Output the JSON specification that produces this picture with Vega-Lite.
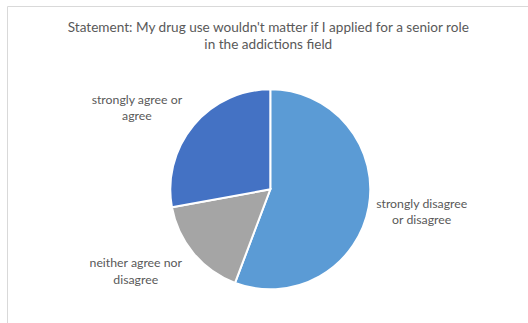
{
  "$schema": "https://vega.github.io/schema/vega-lite/v6.json",
  "autosize": "none",
  "padding": {"left": 7, "top": 6, "right": 0, "bottom": 0},
  "width": 526.6,
  "height": 366.6,
  "background": "white",
  "view": {"stroke": "#D9D9D9", "strokeWidth": 1, "fill": "white"},
  "config": {"view": {"stroke": "#D9D9D9", "strokeWidth": 1}},
  "title": {
    "text": ["Statement: My drug use wouldn't matter if I applied for a senior role", "in the addictions field"],
    "anchor": "middle",
    "frame": "group",
    "font": "Lato",
    "fontSize": 13.6,
    "fontWeight": "normal",
    "color": "#595959",
    "lineHeight": 17,
    "baseline": "top",
    "dy": 50,
    "dx": -2
  },
  "data": {
    "values": [
      {"category": "strongly disagree or disagree", "label": "strongly disagree|or disagree", "count": 34},
      {"category": "neither agree nor disagree", "label": "neither agree nor|disagree", "count": 10},
      {"category": "strongly agree or agree", "label": "strongly agree or|agree", "count": 17}
    ]
  },
  "transform": [{"window": [{"op": "row_number", "as": "rank"}]}],
  "encoding": {
    "theta": {"field": "count", "type": "quantitative", "stack": true},
    "order": {"field": "rank", "type": "quantitative", "sort": "ascending"},
    "color": {
      "field": "category",
      "type": "nominal",
      "scale": {
        "domain": ["strongly disagree or disagree", "neither agree nor disagree", "strongly agree or agree"],
        "range": ["#5B9BD5", "#A5A5A5", "#4472C4"]
      },
      "legend": null
    }
  },
  "layer": [
    {"mark": {"type": "arc", "outerRadius": 100, "stroke": "white", "strokeWidth": 2}},
    {
      "mark": {"type": "text", "radius": 155, "font": "Lato", "fontSize": 12.3, "fill": "#595959", "lineBreak": "|", "lineHeight": 16.5, "align": "center", "baseline": "middle", "dx": -1.1, "dy": -13.2},
      "encoding": {
        "text": {"condition": {"test": "datum.category === 'strongly disagree or disagree'", "field": "label"}, "value": ""},
        "color": {"value": "#595959"}
      }
    },
    {
      "mark": {"type": "text", "radius": 155, "font": "Lato", "fontSize": 12.3, "fill": "#595959", "lineBreak": "|", "lineHeight": 16.5, "align": "center", "baseline": "middle", "dx": -15.5, "dy": -25.1},
      "encoding": {
        "text": {"condition": {"test": "datum.category === 'neither agree nor disagree'", "field": "label"}, "value": ""},
        "color": {"value": "#595959"}
      }
    },
    {
      "mark": {"type": "text", "radius": 155, "font": "Lato", "fontSize": 12.3, "fill": "#595959", "lineBreak": "|", "lineHeight": 16.5, "align": "center", "baseline": "middle", "dx": -14.4, "dy": 10},
      "encoding": {
        "text": {"condition": {"test": "datum.category === 'strongly agree or agree'", "field": "label"}, "value": ""},
        "color": {"value": "#595959"}
      }
    }
  ]
}
